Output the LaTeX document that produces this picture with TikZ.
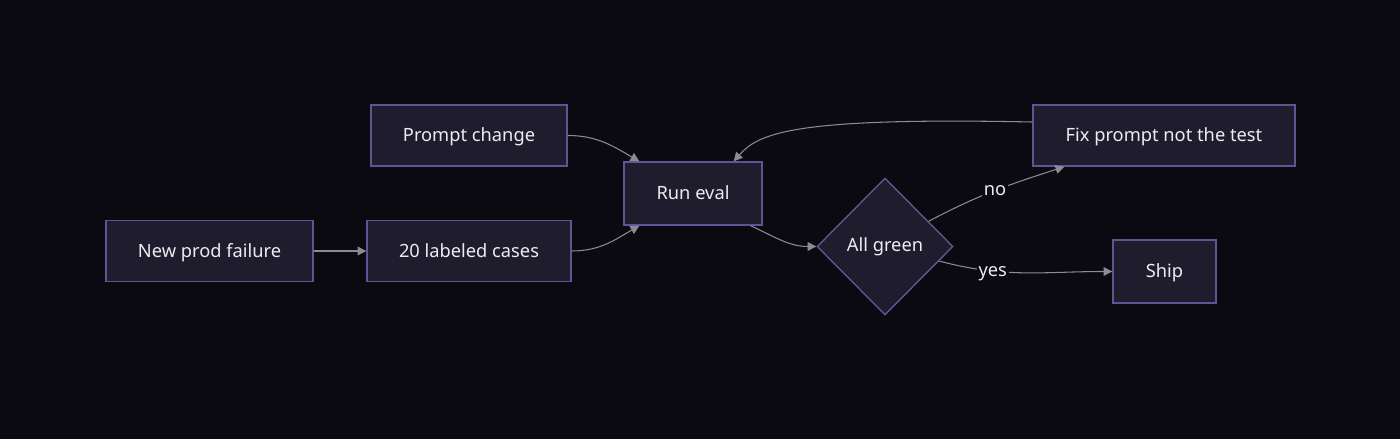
\documentclass[tikz,border=0pt]{standalone}
\usepackage{fontspec}
\setmainfont{Noto Sans}
\usetikzlibrary{shapes.geometric,positioning,arrows.meta}
\definecolor{bgdark}{HTML}{0B0A10}
\definecolor{boxfill}{HTML}{1F1C2E}
\definecolor{boxline}{HTML}{5E5594}
\definecolor{edgegray}{HTML}{8C8A96}
\definecolor{txtlight}{HTML}{ECECF0}

\begin{document}
\begin{tikzpicture}[
    x=0.02cm, y=-0.02cm,
    every node/.style={font=\fontsize{10.4}{12}\selectfont, text=txtlight},
    box/.style={rectangle, draw=boxline, fill=boxfill, line width=0.8pt, minimum height=1.22cm, text height=1.45ex, text depth=0.15ex, align=center},
    decision/.style={diamond, draw=boxline, fill=boxfill, line width=0.8pt, minimum width=2.72cm, minimum height=2.74cm, inner sep=0pt, align=center},
    arrow/.style={draw=edgegray, line width=0.6pt, -{Triangle[length=5pt,width=5pt]}},
    edgelabel/.style={fill=bgdark, inner sep=1pt}
]

% Background and page size
\fill[bgdark] (0,0) rectangle (1400,439);

% Input side
\node[box, minimum width=4.14cm] (failure) at (209.5,251) {New prod failure};
\node[box, minimum width=4.08cm] (cases) at (469,251) {20 labeled cases};
\node[box, minimum width=3.92cm] (prompt) at (469,135.5) {Prompt change};

% Evaluation and decision
\node[box, minimum width=2.76cm, minimum height=1.26cm] (runeval) at (693,193.5) {Run eval};
\node[decision] (allgreen) at (885,246.5) {All green};

% Outcomes
\node[box, minimum width=5.24cm] (fixprompt) at (1164,135.5) {Fix prompt not the test};
\node[box, minimum width=2.06cm, minimum height=1.26cm] (ship) at (1164.5,271.5) {Ship};

% Arrows
\draw[arrow] (failure) -- (cases);
\draw[arrow] (prompt.east) to[out=0, in=150] ([xshift=0.32cm]runeval.north west);
\draw[arrow] (cases.east) to[out=0, in=-150] ([xshift=0.32cm]runeval.south west);
\draw[arrow] ([xshift=-0.24cm]runeval.south east) to[out=-25, in=180] (allgreen.west);
\draw[arrow] (allgreen.30) to[out=28, in=198] node[edgelabel, pos=0.5] {no} ([xshift=0.64cm]fixprompt.south west);
\draw[arrow] (allgreen.-15) to[out=-15, in=180] node[edgelabel, pos=0.3, yshift=-0.06cm] {yes} (ship.west);
\draw[arrow] ([yshift=0.27cm]fixprompt.west) .. controls +(-240,-5) and +(25,-28) .. ([xshift=-0.58cm]runeval.north east);

\end{tikzpicture}
\end{document}
